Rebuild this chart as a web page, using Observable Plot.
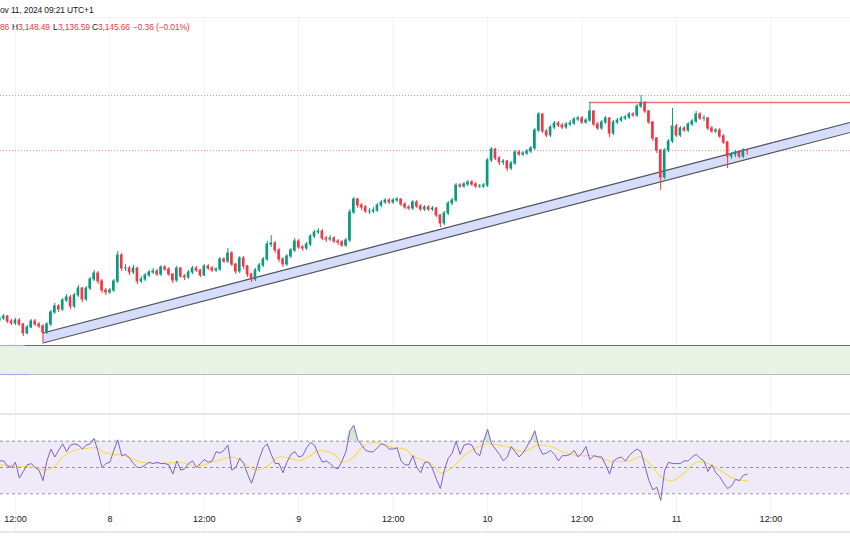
<!DOCTYPE html>
<html>
<head>
<meta charset="utf-8">
<script src="https://cdn.jsdelivr.net/npm/d3@7"></script>
<script src="https://cdn.jsdelivr.net/npm/@observablehq/plot@0.6"></script>
<style>
  body { margin: 0; background: #ffffff; }
  #wrap { position: relative; width: 850px; height: 555px; overflow: hidden; background: #fff;
          font-family: "Liberation Sans", Arial, sans-serif; color: #131722; }
  .abs { position: absolute; white-space: nowrap; }
  .hdr { font-size: 8.5px; line-height: 10px; letter-spacing: -0.15px; }
  .red { color: #f23645; }
  .sep { position: absolute; left: 0; width: 850px; background: #e6e8ee; }
  #main { position: absolute; left: 0; top: 17px; }
  #rsi { position: absolute; left: 0; top: 413px; }
</style>
</head>
<body>
<div id="wrap">
  <div class="sep" style="top:17px;height:1px;background:#eef0f4"></div>
  <div class="abs hdr" style="left:0;top:5px;">ov 11, 2024 09:21 UTC+1</div>
  <div class="abs hdr red" style="left:0;top:22px;">86</div>
  <div class="abs hdr" style="left:12px;top:22px;">H</div>
  <div class="abs hdr red" style="left:18px;top:22px;">3,148.49</div>
  <div class="abs hdr" style="left:53px;top:22px;">L</div>
  <div class="abs hdr red" style="left:58px;top:22px;">3,136.59</div>
  <div class="abs hdr" style="left:92px;top:22px;">C</div>
  <div class="abs hdr red" style="left:98px;top:22px;">3,145.66</div>
  <div class="abs hdr red" style="left:133px;top:22px;">−0.36 (−0.01%)</div>
  <div id="main"></div>
  <div id="rsi"></div>
  <div class="sep" style="top:413px;height:2px;"></div>
  <div class="sep" style="top:531px;height:2px;"></div>
</div>
<script>
// ---------- time axis ----------
const xStart = new Date(Date.UTC(2024, 10, 7, 10, 6));
const xEnd = new Date(Date.UTC(2024, 10, 11, 22, 7));
const tickTimes = [
  Date.UTC(2024,10,7,12), Date.UTC(2024,10,8,0), Date.UTC(2024,10,8,12),
  Date.UTC(2024,10,9,0), Date.UTC(2024,10,9,12), Date.UTC(2024,10,10,0),
  Date.UTC(2024,10,10,12), Date.UTC(2024,10,11,0), Date.UTC(2024,10,11,12)
].map(d => new Date(d));
const tickLabels = ["12:00","8","12:00","9","12:00","10","12:00","11","12:00"];
const tickBold = ["11"];

// ---------- 30-minute candles ----------
const candleStart = Date.UTC(2024, 10, 7, 10, 0);
const candleMinutes = 30;
const firstOpen = 2806;
const closes = [
2810,2814,2804,2800,2806,2798,2780,2792,2804,2798,
2794,2782,2798,2822,2834,2828,2846,2852,2834,2856,
2870,2848,2870,2888,2900,2884,2866,2862,2866,2884,
2936,2910,2910,2902,2910,2884,2888,2896,2902,2904,
2898,2912,2908,2898,2886,2910,2894,2892,2902,2910,
2906,2896,2914,2910,2906,2908,2928,2924,2940,2918,
2904,2930,2914,2898,2888,2906,2916,2928,2958,2960,
2946,2928,2918,2934,2946,2964,2952,2950,2958,2974,
2982,2984,2970,2968,2970,2964,2962,2956,2966,3022,
3048,3036,3032,3024,3024,3026,3036,3042,3046,3042,
3046,3048,3038,3032,3030,3042,3034,3028,3032,3028,
3030,3016,3000,3020,3040,3046,3076,3074,3078,3082,
3078,3074,3074,3076,3126,3148,3130,3122,3124,3110,
3120,3142,3138,3140,3144,3150,3186,3218,3184,3176,
3192,3200,3196,3192,3198,3200,3208,3210,3202,3206,
3224,3198,3190,3202,3210,3180,3202,3206,3210,3212,
3218,3216,3234,3240,3224,3202,3170,3146,3092,3146,
3164,3194,3176,3190,3186,3198,3204,3218,3210,3210,
3190,3184,3186,3174,3162,3134,3138,3142,3134,3146.02,
3145.66];
const highs = [
2814,2818,2816,2808,2810,2810,2800,2796,2808,2808,
2802,2798,2802,2826,2840,2838,2850,2858,2856,2860,
2876,2872,2874,2892,2906,2904,2888,2870,2870,2888,
2944,2940,2918,2914,2916,2912,2894,2900,2906,2910,
2908,2916,2916,2912,2900,2914,2912,2898,2906,2914,
2914,2908,2918,2918,2914,2912,2932,2932,2950,2944,
2920,2934,2934,2916,2900,2910,2920,2932,2964,2976,
2964,2950,2932,2938,2950,2970,2968,2956,2962,2978,
2986,2990,2988,2974,2976,2974,2968,2966,2970,3028,
3052,3050,3040,3036,3030,3032,3040,3046,3050,3050,
3050,3052,3050,3042,3036,3046,3046,3038,3036,3036,
3034,3032,3018,3024,3044,3050,3080,3080,3082,3086,
3086,3082,3078,3080,3130,3152,3150,3134,3128,3126,
3124,3146,3146,3144,3148,3154,3190,3222,3220,3188,
3196,3204,3204,3200,3202,3206,3212,3214,3214,3210,
3242,3226,3202,3206,3214,3212,3206,3210,3214,3216,
3222,3222,3238,3256,3244,3226,3204,3172,3148,3150,
3168,3230,3198,3194,3194,3202,3208,3224,3222,3216,
3212,3194,3190,3190,3178,3164,3142,3146,3146,3150,
3148.49];
const lows = [
2802,2806,2800,2796,2796,2794,2774,2778,2790,2794,
2790,2762,2778,2794,2818,2822,2824,2842,2828,2830,
2852,2842,2844,2866,2884,2878,2860,2856,2858,2862,
2880,2904,2904,2896,2898,2878,2880,2884,2892,2898,
2894,2894,2904,2894,2880,2882,2890,2886,2888,2898,
2902,2892,2894,2906,2902,2902,2904,2920,2920,2914,
2898,2900,2908,2892,2882,2884,2902,2912,2924,2952,
2940,2922,2912,2914,2930,2942,2948,2944,2946,2954,
2970,2978,2966,2962,2964,2960,2956,2952,2952,2962,
3018,3030,3026,3020,3018,3020,3022,3032,3038,3038,
3038,3042,3034,3028,3026,3026,3030,3024,3024,3024,
3024,3012,2992,2996,3016,3036,3042,3070,3070,3074,
3074,3070,3070,3070,3072,3122,3126,3116,3116,3104,
3106,3116,3134,3134,3136,3140,3146,3182,3180,3172,
3172,3188,3192,3188,3188,3194,3196,3204,3198,3198,
3202,3194,3186,3186,3198,3172,3176,3198,3202,3206,
3208,3212,3212,3230,3220,3198,3164,3140,3066,3088,
3142,3160,3172,3172,3182,3182,3194,3200,3206,3204,
3186,3180,3180,3170,3158,3110,3128,3132,3130,3130,
3136.59];

// ---------- drawings ----------
const highLevel = 3256;          // grey dotted level
const lastClose = 3145.66;       // current price line
const resistanceLevel = 3242;    // red horizontal
const resistanceStart = new Date(Date.UTC(2024, 10, 10, 13, 0));
const zoneTop = 2756;
const zoneBottom = 2698;
const zoneStubEnds = [new Date(Date.UTC(2024,10,7,13,16)), new Date(Date.UTC(2024,10,7,13,54))];
const channelTimes = [new Date(Date.UTC(2024,10,7,15,30)), new Date(Date.UTC(2024,10,12,0,0))];
const channelLower = [2761, 3190];
const channelUpper = [2781, 3210];

// ---------- RSI (per candle) and its moving average ----------
const rsiValues = [
55,55,51,50,54,42,47,52,53,50,
48,40,55,64,58,63,68,62,67,68,
67,64,67,68,72,62,50,53,54,63,
71,59,60,57,53,50,50,52,54,53,
54,53,53,52,45,55,48,49,53,55,
50,53,56,54,55,62,61,63,67,48,
50,57,53,45,38,47,57,65,68,60,
53,53,46,54,60,62,58,59,65,69,
67,60,54,55,53,50,49,55,62,78,
82,71,67,63,62,62,65,68,67,64,
64,65,55,52,52,59,50,46,54,54,
49,41,34,48,57,61,70,60,67,68,
67,61,59,70,79,68,64,60,55,58,
66,62,58,61,66,71,78,66,60,61,
63,60,55,59,59,60,63,58,61,66,
56,59,58,58,52,45,55,57,58,55,
59,62,64,62,51,40,33,35,25,48,
54,53,53,53,55,55,58,60,57,55,
47,52,46,43,38,34,36,41,40,44,
45];
const maCandleIndex = [0,5,9,11,14,16,19,21,25,26,29,32,36,41,46,50,54,59,61,65,68,71,75,76,79,81,85,87,90,92,95,98,100,103,105,110,112,115,118,120,124,127,130,133,137,141,143,147,151,155,160,163,166,168,171,174,177,180,183,187,190];
const maValues = [52,51,50,48,51,58,63,64,65,62,60,59,54,53,54,51,54,58,56,48,51,58,56,55,59,63,60,54,58,65,69,67,65,64,59,52,46,50,59,63,68,67,65,62,67,65,62,59,59,55,55,58,50,43,40,46,54,53,48,41,40];
const rsiLevels = [30, 50, 70];

// ---------- build tables ----------
const candleTime = i => new Date(candleStart + i * candleMinutes * 60000);
const candles = closes.map((c, i) => ({
  t: candleTime(i),
  open: i === 0 ? firstOpen : closes[i - 1],
  close: c, high: highs[i], low: lows[i]
}));
const channel = channelTimes.map((t, i) => ({t, lower: channelLower[i], upper: channelUpper[i]}));
const rsi = rsiValues.map((v, i) => ({t: candleTime(i), v}));
const ma = maCandleIndex.map((k, i) => ({t: candleTime(k), v: maValues[i]}));
const ticks = tickTimes.map((t, i) => ({t, label: tickLabels[i]}));

const UP = "#089981", DOWN = "#f23645";
const col = d => d.close >= d.open ? UP : DOWN;
const half = 10 * 60000;
const grid = "#f0f2f6";

const main = Plot.plot({
  width: 850, height: 396, margin: 0,
  x: {type: "utc", domain: [xStart, xEnd], range: [0, 850], axis: null},
  y: {domain: [2620, 3412], range: [396, 0], axis: null},
  style: {background: "transparent", overflow: "visible"},
  marks: [
    Plot.ruleX(tickTimes, {stroke: grid}),
    Plot.rect([{top: zoneTop, bottom: zoneBottom}], {x1: () => xStart, x2: () => xEnd, y1: "bottom", y2: "top", fill: "#e8f3e5"}),
    Plot.ruleY([zoneTop], {stroke: "#6b6e75", strokeWidth: 1}),
    Plot.ruleY([zoneBottom], {stroke: "#b8bbc2", strokeWidth: 1}),
    Plot.ruleY([{y: zoneTop, e: zoneStubEnds[0]}, {y: zoneBottom, e: zoneStubEnds[1]}], {y: "y", x1: () => xStart, x2: "e", stroke: "#9fb1ef", strokeWidth: 1.2}),
    Plot.ruleY([highLevel], {stroke: "#a3a6af", strokeDasharray: "1,2"}),
    Plot.ruleY([lastClose], {stroke: "#f23645", strokeOpacity: 0.55, strokeDasharray: "1,2"}),
    Plot.areaY(channel, {x: "t", y1: "lower", y2: "upper", fill: "#d6ddfa", clip: true}),
    Plot.line(channel, {x: "t", y: "lower", stroke: "#505259", strokeWidth: 1.2, clip: true}),
    Plot.line(channel, {x: "t", y: "upper", stroke: "#505259", strokeWidth: 1.2, clip: true}),
    Plot.ruleY([{y: resistanceLevel, s: resistanceStart}], {y: "y", x1: "s", x2: () => xEnd, stroke: "#f0565e", strokeOpacity: 0.85, strokeWidth: 1.6}),
    Plot.ruleX(candles, {x: "t", y1: "low", y2: "high", stroke: col, strokeWidth: 1, clip: true}),
    Plot.rect(candles, {x1: d => new Date(+d.t - half), x2: d => new Date(+d.t + half), y1: "open", y2: "close", fill: col, insetTop: -0.5, insetBottom: -0.5, clip: true})
  ]
});
document.getElementById("main").appendChild(main);

const rsiPlot = Plot.plot({
  width: 850, height: 120, margin: 0,
  x: {type: "utc", domain: [xStart, xEnd], range: [0, 850], axis: null},
  y: {domain: [30, 70], range: [80.3, 27.7], axis: null},
  style: {background: "transparent", fontFamily: "'Liberation Sans', Arial, sans-serif", fontSize: "9px"},
  marks: [
    Plot.ruleX(tickTimes, {stroke: grid}),
    Plot.rect([{lo: rsiLevels[0], hi: rsiLevels[2]}], {x1: () => xStart, x2: () => xEnd, y1: "lo", y2: "hi", fill: "#efeaf8"}),
    Plot.ruleY(rsiLevels, {stroke: "#8f929a", strokeDasharray: "3,3", strokeWidth: 1}),
    Plot.areaY(rsi, {x: "t", y1: rsiLevels[2], y2: d => Math.max(d.v, rsiLevels[2]), fill: "#cfe9d3"}),
    Plot.line(ma, {x: "t", y: "v", stroke: "#f7dc55", strokeWidth: 1.1, curve: "catmull-rom"}),
    Plot.line(rsi, {x: "t", y: "v", stroke: "#8160c8", strokeWidth: 1}),
    Plot.text(ticks, {x: "t", text: "label", frameAnchor: "bottom", dy: -12, fill: "#131722",
      fontWeight: d => tickBold.includes(d.label) ? "bold" : "normal"})
  ]
});
document.getElementById("rsi").appendChild(rsiPlot);
</script>
</body>
</html>
